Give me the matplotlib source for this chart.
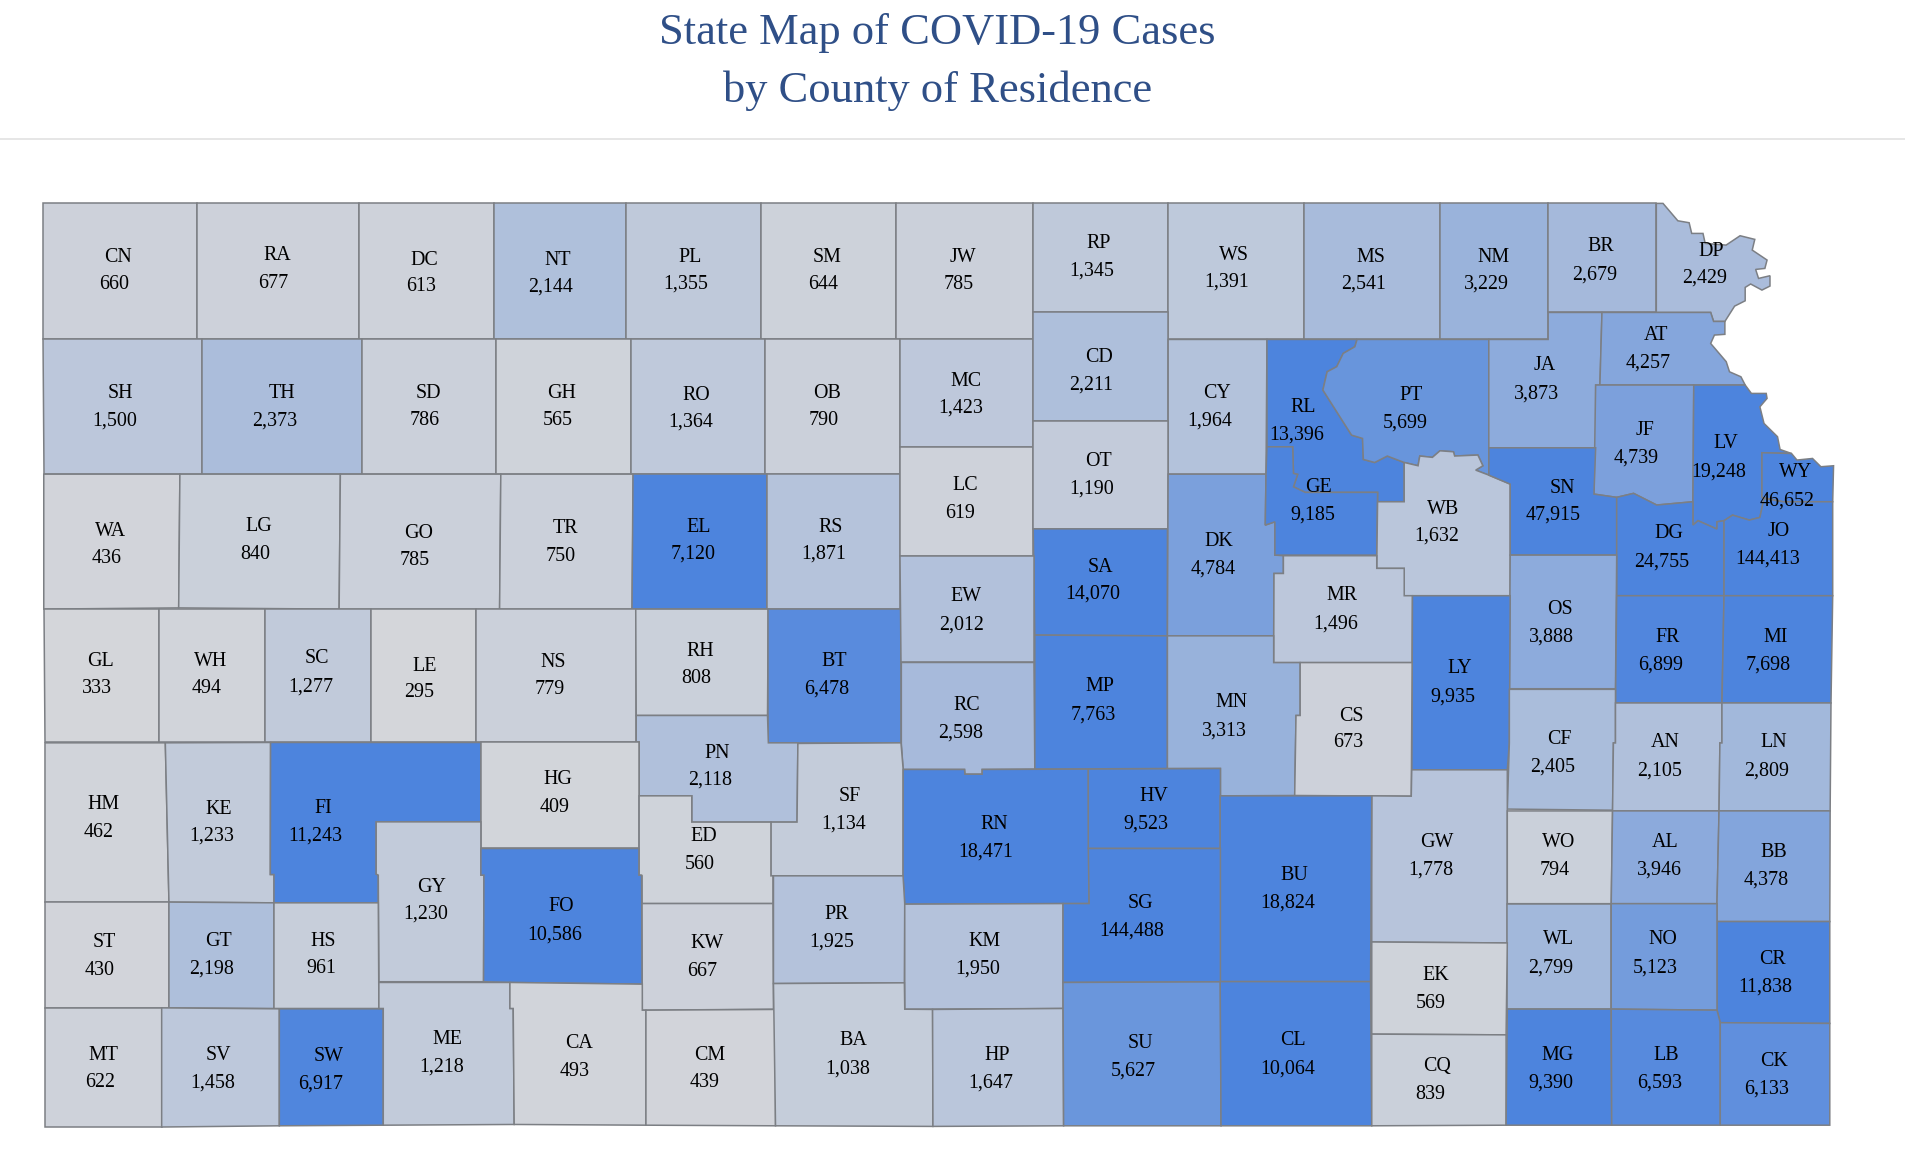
import matplotlib
matplotlib.use('Agg')
import matplotlib.pyplot as plt
from matplotlib.colors import LinearSegmentedColormap, Normalize
from matplotlib.patches import Polygon

# Cases by county
counties = ['CN', 'RA', 'DC', 'NT', 'PL', 'SM', 'JW', 'RP', 'WS', 'MS', 'NM', 'BR', 'DP',
            'SH', 'TH', 'SD', 'GH', 'RO', 'OB', 'MC', 'CD', 'CY', 'RL', 'PT', 'JA', 'AT',
            'WA', 'LG', 'GO', 'TR', 'EL', 'RS', 'LC', 'OT', 'SA', 'DK', 'GE', 'WB', 'JF',
            'LV', 'WY', 'SN', 'DG', 'JO', 'OS', 'MR', 'GL', 'WH', 'SC', 'LE', 'NS', 'RH',
            'BT', 'EW', 'RC', 'MP', 'MN', 'LY', 'CS', 'FR', 'MI', 'CF', 'AN', 'LN', 'PN',
            'SF', 'HM', 'KE', 'FI', 'HG', 'ED', 'GY', 'RN', 'HV', 'GW', 'WO', 'AL', 'BB',
            'BU', 'FO', 'ST', 'GT', 'HS', 'KW', 'PR', 'KM', 'SG', 'CR', 'WL', 'NO', 'EK',
            'MT', 'SV', 'SW', 'ME', 'CA', 'CM', 'BA', 'HP', 'SU', 'CL', 'CQ', 'MG', 'LB', 'CK']
cases = [660, 677, 613, 2144, 1355, 644, 785, 1345, 1391, 2541, 3229, 2679, 2429,
         1500, 2373, 786, 565, 1364, 790, 1423, 2211, 1964, 13396, 5699, 3873, 4257,
         436, 840, 785, 750, 7120, 1871, 619, 1190, 14070, 4784, 9185, 1632, 4739,
         19248, 46652, 47915, 24755, 144413, 3888, 1496, 333, 494, 1277, 295, 779, 808,
         6478, 2012, 2598, 7763, 3313, 9935, 673, 6899, 7698, 2405, 2105, 2809, 2118,
         1134, 462, 1233, 11243, 409, 560, 1230, 18471, 9523, 1778, 794, 3946, 4378,
         18824, 10586, 430, 2198, 961, 667, 1925, 1950, 144488, 11838, 2799, 5123, 569,
         622, 1458, 6917, 1218, 493, 439, 1038, 1647, 5627, 10064, 839, 9390, 6593, 6133]

# County outlines, in map units (top left origin)
shapes = {
    'CN': [(35, 167), (162, 167), (162, 279), (35, 279)],
    'RA': [(162, 167), (295, 167), (295, 279), (162, 279)],
    'DC': [(295, 167), (406, 167), (406, 279), (295, 279)],
    'NT': [(406, 167), (515, 167), (515, 279), (406, 279)],
    'PL': [(515, 167), (626, 167), (626, 279), (515, 279)],
    'SM': [(626, 167), (737, 167), (737, 279), (626, 279)],
    'JW': [(737, 167), (850, 167), (850, 279), (737, 279)],
    'RP': [(850, 167), (961, 167), (961, 257), (850, 257)],
    'WS': [(961, 167), (1072.4, 167), (1072.4, 279.2), (961, 279.2)],
    'MS': [(1072.4, 167), (1184.6, 167), (1184.6, 279.2), (1072.4, 279.2)],
    'NM': [(1184.6, 167), (1273.6, 167), (1273.6, 279.2), (1184.6, 279.2)],
    'BR': [(1273.6, 167), (1362.6, 167), (1362.6, 257), (1273.6, 257)],
    'DP': [(1368.1, 167.3), (1380.3, 181.6), (1389.6, 183.2), (1391.7, 192), (1401, 192),
           (1402.8, 200.2), (1420, 201.6), (1431.5, 193.9), (1443.6, 196.9), (1441.5, 205.7),
           (1453.7, 213.9), (1451.9, 220.8), (1444.3, 221.6), (1446.7, 229), (1456.1, 226.8),
           (1456.1, 235.3), (1449.5, 238.6), (1440.2, 233.6), (1435.7, 236.4), (1435.7, 247.4),
           (1427, 251.8), (1419, 264.4), (1409.7, 264.4), (1407.3, 257), (1362.6, 257),
           (1362.6, 167.3)],
    'SH': [(35, 279), (166, 279), (166, 390), (36, 390)],
    'TH': [(166, 279), (298, 279), (298, 390), (166, 390)],
    'SD': [(298, 279), (408, 279), (408, 390), (298, 390)],
    'GH': [(408, 279), (519, 279), (519, 390), (408, 390)],
    'RO': [(519, 279), (629, 279), (629, 390), (519, 390)],
    'OB': [(629, 279), (740, 279), (740, 390), (629, 390)],
    'MC': [(740, 279), (850, 279), (850, 368), (740, 368)],
    'CD': [(850, 257), (961, 257), (961, 346), (850, 346)],
    'CY': [(961, 279.2), (1042.3, 279.2), (1041.5, 390), (961, 390)],
    'RL': [(1042.3, 279.2), (1116.4, 279.2), (1114.6, 285.2), (1105, 290.7), (1099.7, 301.6),
           (1091.8, 305.8), (1088.3, 320.8), (1111.9, 357.9), (1120.9, 360.6), (1121.6, 377.9),
           (1130.9, 380.4), (1141.3, 375.1), (1155.2, 380.4), (1155.2, 412.7), (1133.3, 412.7),
           (1133.3, 405), (1073.8, 405), (1064.1, 400.4), (1067.5, 390.2), (1064.1, 389.4),
           (1063.4, 367.5), (1042.3, 367.5)],
    'PT': [(1116.4, 279.2), (1224.8, 279.2), (1224.8, 390.8), (1214, 386.7), (1219.9, 383.1),
           (1215.8, 374.3), (1196.7, 375.1), (1195.7, 371.6), (1184.6, 370.8), (1178.4, 376.2),
           (1168, 375.1), (1166.6, 383.1), (1155.2, 380.4), (1141.3, 375.1), (1130.9, 380.4),
           (1121.6, 377.9), (1120.9, 360.6), (1111.9, 357.9), (1088.3, 320.8), (1091.8, 305.8),
           (1099.7, 301.6), (1105, 290.7), (1114.6, 285.2)],
    'JA': [(1273.6, 257), (1317.9, 257), (1316.2, 316.7), (1312.7, 316.7), (1312.7, 368.3),
           (1224.8, 368.3), (1224.8, 279.2), (1273.6, 279.2)],
    'AT': [(1317.9, 257), (1407.3, 257), (1409.7, 264.4), (1419, 264.4), (1419, 275),
           (1410.4, 275.6), (1407.3, 282.5), (1420.1, 297.5), (1422.8, 305.8), (1432.2, 309.9),
           (1435.7, 316.7), (1316.2, 316.7)],
    'WA': [(36, 390), (148, 390), (147, 500), (36, 501)],
    'LG': [(148, 390), (280, 390), (279, 501), (147, 500)],
    'GO': [(280, 390), (412, 390), (411, 501), (279, 501)],
    'TR': [(412, 390), (521, 390), (520, 501), (411, 501)],
    'EL': [(521, 390), (631, 390), (631, 501), (520, 501)],
    'RS': [(631, 390), (740, 390), (740, 501), (631, 501)],
    'LC': [(740, 368), (850, 368), (850, 457), (740, 457)],
    'OT': [(850, 346), (961, 346), (961, 435), (850, 435)],
    'SA': [(850, 435), (960.4, 435), (960.4, 523), (851.3, 522.4)],
    'DK': [(961, 390), (1041.5, 390), (1040.9, 431.9), (1048.8, 429.2), (1048.8, 456.6),
           (1055.8, 457.1), (1055.8, 471.7), (1048.1, 471.7), (1047.8, 523), (960.4, 523)],
    'GE': [(1042.3, 367.5), (1063.4, 367.5), (1064.1, 389.4), (1067.5, 390.2), (1064.1, 400.4),
           (1073.8, 405), (1133.3, 405), (1132.6, 456.6), (1048.8, 456.6), (1048.8, 429.2),
           (1040.9, 431.9), (1041.5, 390)],
    'WB': [(1155.2, 380.4), (1166.6, 383.1), (1168, 375.1), (1178.4, 376.2), (1184.6, 370.8),
           (1195.7, 371.6), (1196.7, 375.1), (1215.8, 374.3), (1219.9, 383.1), (1214, 386.7),
           (1224.8, 390.8), (1242.4, 398.2), (1242.4, 490), (1155.2, 490), (1155.2, 467.5),
           (1132.6, 467.5), (1133.3, 412.7), (1155.2, 412.7)],
    'JF': [(1312.7, 316.7), (1393.4, 316.7), (1392.7, 412.7), (1362.9, 415.4), (1343.9, 405.8),
           (1330, 409.1), (1311.3, 406.4)],
    'LV': [(1393.4, 316.7), (1435.7, 316.7), (1440.8, 323.6), (1453, 323.6), (1453.7, 327.7),
           (1447.8, 334.6), (1451.2, 348.3), (1462.3, 359.2), (1464.4, 369.7), (1473.8, 373),
           (1449.5, 372.4), (1449.5, 409.1), (1451.2, 410), (1447.8, 425.6), (1439.1, 427.8),
           (1425.3, 423.7), (1418.3, 428.3), (1412.5, 429.2), (1412.5, 435.2), (1396.9, 428.3),
           (1392.7, 431.9), (1392.7, 412.7)],
    'WY': [(1449.5, 372.4), (1473.8, 373), (1478.3, 378.4), (1491.1, 377.1), (1498, 383.9),
           (1508.4, 383.1), (1507.7, 412.7), (1466.8, 412.7), (1449.5, 409.1)],
    'SN': [(1224.8, 368.3), (1312.7, 368.3), (1311.3, 406.4), (1330, 409.1), (1330, 456.6),
           (1242.4, 456.6), (1242.4, 398.2), (1224.8, 390.8)],
    'DG': [(1330, 409.1), (1343.9, 405.8), (1362.9, 415.4), (1392.7, 412.7), (1392.7, 431.9),
           (1396.9, 428.3), (1412.5, 435.2), (1412.5, 429.2), (1418.3, 428.3), (1418.3, 490),
           (1330, 490)],
    'JO': [(1418.3, 428.3), (1425.3, 423.7), (1439.1, 427.8), (1447.8, 425.6), (1451.2, 410),
           (1466.8, 412.7), (1507.7, 412.7), (1507.7, 490), (1418.3, 490)],
    'OS': [(1242.4, 456.6), (1330, 456.6), (1329, 566.5), (1241.7, 566.5)],
    'MR': [(1055.8, 457.1), (1132.6, 457.1), (1132.6, 467.5), (1155.2, 467.5), (1155.2, 490),
           (1162, 490), (1161.7, 545), (1047.8, 545), (1048.1, 471.7), (1055.8, 471.7)],
    'GL': [(36, 501), (131, 501), (131, 610), (37, 610)],
    'WH': [(131, 501), (218, 501), (218, 610), (131, 610)],
    'SC': [(218, 501), (305, 501), (305, 610), (218, 610)],
    'LE': [(305, 501), (392, 501), (392, 610), (305, 610)],
    'NS': [(392, 501), (523, 501), (523, 610), (392, 610)],
    'RH': [(523, 501), (632, 501), (631.4, 588.5), (523.4, 588.5)],
    'BT': [(632.1, 501), (741.2, 501), (741.2, 611), (632.1, 611)],
    'EW': [(740, 457), (850.6, 457), (850.6, 544.9), (741.5, 544.9)],
    'RC': [(741.5, 544.9), (850.6, 544.9), (851.3, 632.6), (808, 632.9), (808, 636.8),
           (793.8, 636.8), (793.5, 632.9), (743, 632.9), (741.5, 611.5)],
    'MP': [(851.3, 522.4), (960.4, 523), (960.4, 632.1), (851.3, 632.6)],
    'MN': [(960.4, 523), (1047.8, 523), (1047.8, 545), (1069.6, 545), (1069.6, 588.5),
           (1066.2, 588.5), (1065.1, 654.3), (1004, 654.6), (1004, 632.1), (960.4, 632.1)],
    'LY': [(1162, 490), (1242.4, 490), (1241.7, 611), (1240, 633.2), (1161.4, 633.2)],
    'CS': [(1069.6, 545), (1161.7, 545), (1161, 654.9), (1065.1, 654.3), (1066.2, 588.5),
           (1069.6, 588.5)],
    'FR': [(1330, 490), (1418.3, 490), (1416.6, 578.2), (1329, 578.2)],
    'MI': [(1418.3, 490), (1507.7, 490), (1506.3, 578.2), (1416.6, 578.2)],
    'CF': [(1241.7, 567), (1329, 567), (1329, 611.1), (1327.3, 611.1), (1326.6, 666.4),
           (1240, 665.5), (1241.7, 611)],
    'AN': [(1329, 578.2), (1416.6, 578.2), (1416.6, 611.1), (1414.9, 611.1), (1414.2, 667),
           (1326.6, 667), (1327.3, 611.1), (1329, 611.1)],
    'LN': [(1416.6, 578.2), (1506.3, 578.2), (1505.6, 667), (1414.2, 667), (1414.9, 611.1),
           (1416.6, 611.1)],
    'PN': [(523.4, 588.5), (631.4, 588.5), (632.1, 611), (656.4, 611), (655.7, 676.2),
           (569.1, 676.2), (569.1, 654.6), (525.8, 654.6), (525.8, 610.2), (523.4, 610.2)],
    'SF': [(656.4, 611.5), (741.2, 611), (743, 632.9), (743, 720.4), (634.2, 720.4),
           (634.2, 676.2), (655.7, 676.2)],
    'HM': [(37, 611), (136, 611), (139, 742), (37, 742)],
    'KE': [(136, 611), (222.6, 610.7), (222.4, 719.3), (225.4, 719.3), (225.4, 742.6),
           (139, 742)],
    'FI': [(222.6, 610.7), (395.6, 610.7), (395.6, 676), (309.5, 676), (309.5, 719),
           (311.2, 719.8), (311.2, 742.6), (225.4, 742.6), (225.4, 719.3), (222.4, 719.3)],
    'HG': [(395.6, 610.7), (525.6, 610.7), (525.6, 697.9), (395.6, 697.9)],
    'ED': [(525.8, 654.6), (569.1, 654.6), (569.1, 676.2), (634.2, 676.2), (634.2, 720.4),
           (635.9, 720.4), (635.9, 743.2), (528.2, 743.2), (528.2, 720.4), (525.8, 719.8)],
    'GY': [(309.5, 676), (395.6, 676), (395.6, 719.8), (398.1, 719.8), (397.8, 807.5),
           (311.7, 807.5), (311.2, 719.8), (309.5, 719)],
    'RN': [(743, 632.9), (793.5, 632.9), (793.8, 636.8), (808, 636.8), (808, 632.9),
           (895.3, 632.6), (896, 743.2), (744.3, 743.7), (742.9, 721.2)],
    'HV': [(895.3, 632.6), (1004, 632.1), (1004, 697.9), (895.3, 697.9)],
    'GW': [(1161.4, 633.2), (1240, 633.2), (1240, 775.6), (1128.5, 774.8), (1128.5, 654.6),
           (1161, 654.9)],
    'WO': [(1240, 667), (1326.6, 667), (1325.5, 743.3), (1240, 743.3)],
    'AL': [(1326.6, 667), (1414.2, 667), (1412.5, 743.3), (1325.5, 743.3)],
    'BB': [(1414.2, 667), (1505.6, 667), (1505.3, 758), (1412.5, 758), (1412.5, 743.3)],
    'BU': [(1003.8, 654.6), (1128.5, 654.6), (1127.5, 807.4), (1003.8, 807.4)],
    'FO': [(395.6, 697.9), (525.6, 697.9), (525.6, 719.8), (527.8, 719.8), (528.4, 809.5),
           (419.5, 808.1), (397.8, 807.5), (398.1, 719.8), (395.6, 719.8)],
    'ST': [(37, 742), (139, 742), (139, 829), (37, 829)],
    'GT': [(139, 742), (225.4, 742.6), (225.4, 829.5), (139, 829)],
    'HS': [(225.4, 742.6), (311.2, 742.6), (311.7, 829.5), (225.4, 829.5)],
    'KW': [(528.2, 743.2), (635.9, 743.2), (636.3, 830.1), (528.4, 830.9)],
    'PR': [(636.3, 720.4), (742.9, 720.4), (744.3, 743.7), (744, 808.4), (636.3, 809)],
    'KM': [(744.3, 743.7), (874.5, 743.2), (874.5, 829.5), (744.3, 830.1)],
    'SG': [(895.3, 697.9), (1004, 697.9), (1004, 807.6), (874.5, 808.1), (874.5, 743.2),
           (896, 743.2)],
    'CR': [(1412.5, 758), (1505.3, 758), (1505.3, 841.8), (1415.2, 841.2), (1412.5, 830.9)],
    'WL': [(1240, 743.3), (1325.5, 743.3), (1325.5, 830), (1240, 830)],
    'NO': [(1325.5, 743.3), (1412.5, 743.3), (1412.5, 830.9), (1325.5, 830)],
    'EK': [(1128.5, 774.8), (1240, 775.6), (1239, 851.2), (1128.5, 850.6)],
    'MT': [(37, 829), (133, 829), (133, 927), (37, 927)],
    'SV': [(133, 829), (229.8, 829.8), (229.8, 926), (133, 927)],
    'SW': [(229.8, 829.8), (315.3, 829.8), (315.3, 925.5), (229.8, 926)],
    'ME': [(311.7, 808.1), (419.5, 808.1), (419.5, 829.5), (422.2, 829.5), (423, 924.9),
           (315.3, 925.5), (315.3, 829.5), (311.7, 829.5)],
    'CA': [(419.5, 808.1), (528.4, 809.5), (528.4, 830.9), (531.4, 830.9), (531.4, 925.5),
           (423, 924.9), (422.2, 829.5), (419.5, 829.5)],
    'CM': [(531.4, 830.9), (638, 830.3), (638, 926), (531.4, 925.5)],
    'BA': [(636.3, 809), (744, 808.4), (744.3, 830.1), (767.2, 830.3), (767.5, 926.5),
           (638, 926)],
    'HP': [(767.2, 830.3), (874.5, 829.5), (875, 926), (767.5, 926.5)],
    'SU': [(874.5, 808.1), (1004, 807.6), (1004.5, 926), (875, 926)],
    'CL': [(1003.8, 807.4), (1127.5, 807.4), (1128.5, 926), (1004.5, 926)],
    'CQ': [(1128.5, 850.6), (1239, 851.2), (1239, 925.5), (1128.5, 926)],
    'MG': [(1240, 830), (1325.5, 830), (1325.9, 925.5), (1239, 925.5)],
    'LB': [(1325.5, 830), (1412.5, 830.9), (1415.2, 841.2), (1415.2, 925.5), (1325.9, 925.5)],
    'CK': [(1415.2, 841.2), (1505.3, 841.8), (1505.3, 925.5), (1415.2, 925.5)],
}

# Where each label sits: code x, code y, value x, value y
label_pos = {
    'CN': (97, 212, 94, 234), 'RA': (228, 210, 225, 233), 'DC': (349, 214, 346, 236),
    'NT': (459, 214, 453, 236), 'PL': (568, 212, 564, 234), 'SM': (680, 212, 677, 234),
    'JW': (792, 212, 789, 234), 'RP': (904, 200, 898, 223), 'WS': (1015, 210, 1009, 232),
    'MS': (1128, 212, 1122, 234), 'NM': (1229, 212, 1223, 234), 'BR': (1317, 203, 1312, 226),
    'DP': (1408, 207, 1402, 229), 'SH': (99, 324, 94, 346), 'TH': (232, 324, 226, 346),
    'SD': (352, 324, 349, 346), 'GH': (462, 324, 459, 346), 'RO': (573, 325, 568, 347),
    'OB': (680, 324, 678, 346), 'MC': (795, 314, 790, 336), 'CD': (904, 294, 898, 317),
    'CY': (1001, 324, 995, 346), 'RL': (1072, 335, 1067, 358), 'PT': (1161, 325, 1156, 348),
    'JA': (1271, 301, 1264, 324), 'AT': (1362, 276, 1356, 299), 'WA': (91, 437, 88, 459),
    'LG': (213, 433, 210, 456), 'GO': (344, 439, 341, 461), 'TR': (465, 435, 461, 458),
    'EL': (575, 434, 570, 456), 'RS': (683, 434, 678, 456), 'LC': (794, 399, 790, 422),
    'OT': (904, 380, 898, 402), 'SA': (905, 467, 899, 489), 'DK': (1003, 445, 998, 468),
    'GE': (1085, 401, 1080, 424), 'WB': (1187, 419, 1182, 441), 'JF': (1353, 354, 1346, 377),
    'LV': (1420, 365, 1414, 388), 'WY': (1477, 389, 1470, 412), 'SN': (1285, 402, 1278, 424),
    'DG': (1373, 439, 1367, 462), 'JO': (1463, 437, 1454, 460), 'OS': (1283, 501, 1276, 524),
    'MR': (1104, 490, 1099, 513), 'GL': (83, 544, 80, 566), 'WH': (173, 544, 170, 566),
    'SC': (261, 542, 256, 565), 'LE': (349, 548, 345, 570), 'NS': (455, 545, 452, 567),
    'RH': (576, 536, 573, 558), 'BT': (686, 544, 680, 567), 'EW': (795, 491, 791, 514),
    'RC': (795, 580, 790, 603), 'MP': (905, 565, 899, 588), 'MN': (1013, 578, 1007, 601),
    'LY': (1201, 550, 1195, 573), 'CS': (1112, 589, 1109, 611), 'FR': (1372, 524, 1366, 547),
    'MI': (1461, 524, 1455, 547), 'CF': (1283, 608, 1277, 631), 'AN': (1370, 611, 1365, 634),
    'LN': (1459, 611, 1453, 634), 'PN': (590, 620, 584, 642), 'SF': (699, 655, 694, 678),
    'HM': (85, 662, 81, 685), 'KE': (180, 666, 174, 688), 'FI': (266, 665, 259, 688),
    'HG': (459, 641, 456, 664), 'ED': (579, 688, 576, 711), 'GY': (355, 730, 350, 752),
    'RN': (818, 678, 811, 701), 'HV': (949, 655, 943, 678), 'GW': (1182, 693, 1177, 716),
    'WO': (1282, 693, 1279, 716), 'AL': (1370, 693, 1365, 716), 'BB': (1459, 701, 1453, 724),
    'BU': (1065, 720, 1059, 743), 'FO': (462, 746, 456, 769), 'ST': (86, 775, 82, 798),
    'GT': (180, 774, 174, 797), 'HS': (266, 774, 264, 797), 'KW': (582, 776, 578, 799),
    'PR': (688, 752, 684, 775), 'KM': (810, 774, 804, 797), 'SG': (938, 743, 931, 766),
    'CR': (1458, 789, 1452, 812), 'WL': (1282, 773, 1276, 796), 'NO': (1368, 773, 1362, 796),
    'EK': (1181, 802, 1177, 825), 'MT': (85, 868, 82, 890), 'SV': (180, 868, 175, 891),
    'SW': (270, 869, 264, 892), 'ME': (368, 855, 363, 878), 'CA': (476, 858, 473, 881),
    'CM': (584, 868, 580, 890), 'BA': (702, 856, 697, 879), 'HP': (820, 868, 815, 891),
    'SU': (938, 858, 932, 881), 'CL': (1064, 856, 1059, 879), 'CQ': (1182, 877, 1177, 900),
    'MG': (1281, 868, 1276, 891), 'LB': (1371, 868, 1365, 891), 'CK': (1459, 873, 1453, 896),
}

serif = 'Liberation Serif'
cmap = LinearSegmentedColormap.from_list('cases', ['#d6d7da', '#4d84dd'])
norm = Normalize(vmin=200, vmax=7100, clip=True)

fig = plt.figure(figsize=(19.06, 11.72), dpi=100)
ax = fig.add_axes([0, 0, 1, 1])
ax.set_xlim(0, 1568)
ax.set_ylim(964, 0)
ax.axis('off')

# Title and the rule under it
ax.text(771, 27, 'State Map of COVID-19 Cases', family=serif, fontsize=32,
        color='#2f4f87', ha='center', va='center')
ax.text(771, 75, 'by County of Residence', family=serif, fontsize=32,
        color='#2f4f87', ha='center', va='center')
ax.plot([0, 1568], [114, 114], color='#e4e4e4', lw=1.3)

for code, value in zip(counties, cases):
    ax.add_patch(Polygon(shapes[code], closed=True, facecolor=cmap(norm(value)),
                         edgecolor='#7c7f84', lw=1.1, joinstyle='miter'))

for code, value in zip(counties, cases):
    cx, cy, vx, vy = label_pos[code]
    ax.text(cx, cy, code, family=serif, fontsize=14.4, color='black', ha='center', va='center')
    ax.text(vx, vy, f'{value:,}', family=serif, fontsize=14.4, color='black', ha='center', va='center')

fig.savefig('out.png', dpi=100)
